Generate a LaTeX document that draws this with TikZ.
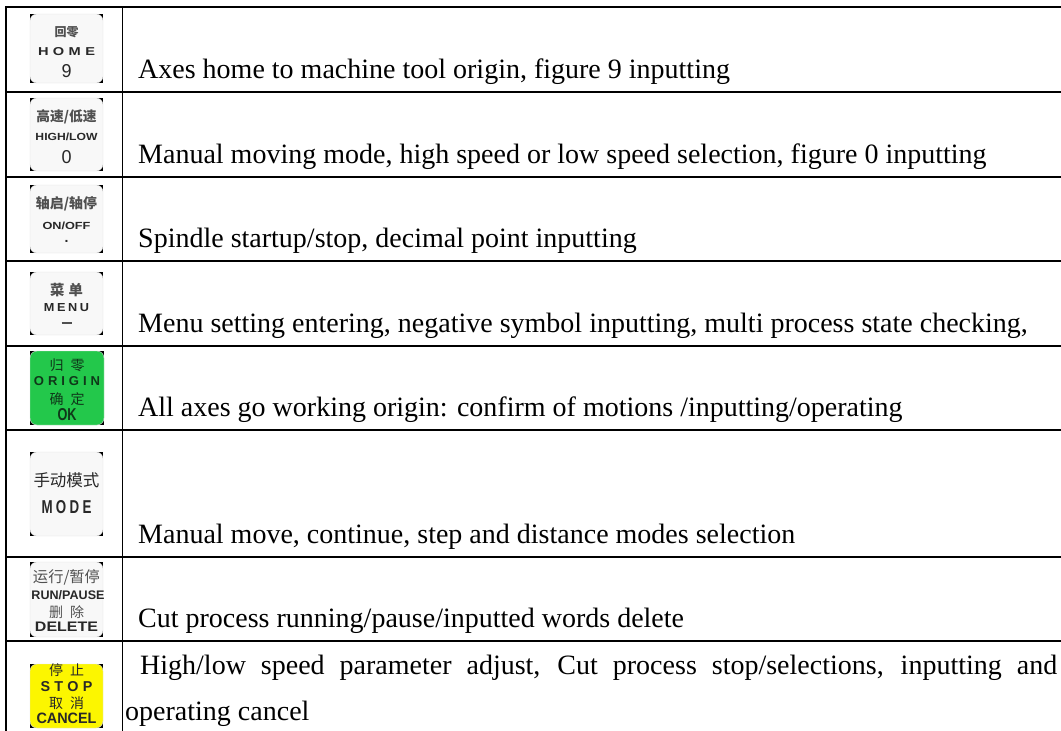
\documentclass[tikz,border=0pt]{standalone}
\usepackage{fontspec}
\usepackage{graphicx}
\setmainfont{Liberation Serif}
\newfontfamily\cjk{Noto Sans CJK SC}
\newfontfamily\keyfont{Liberation Sans}
\definecolor{keywhite}{RGB}{248,248,248}
\definecolor{keygreen}{RGB}{35,200,75}
\definecolor{keyyellow}{RGB}{252,246,0}
\definecolor{txgray}{RGB}{80,80,80}
\definecolor{txdark}{RGB}{40,40,40}
\definecolor{txgreen}{RGB}{15,55,25}
\newcommand\fw[2]{\resizebox{#1pt}{!}{#2}}
\newcommand\fwh[3]{\resizebox{#1pt}{#2pt}{#3}}
\tikzset{
  gridline/.style={line width=1.5pt, black},
  desc/.style={anchor=base west, inner sep=0pt, font=\fontsize{28}{34}\selectfont},
  kt/.style={inner sep=0pt, anchor=center},
  keyface/.style={rounded corners=7pt, draw=black!12, line width=0.4pt},
}
\newcommand\keybox[6]{% name, x0, y0, x1, y1, colour
  \fill[black] (#2,#3) rectangle (#4,#5);
  \filldraw[keyface, fill=#6] (#2,#3) rectangle (#4,#5);
  \node[inner sep=0pt, minimum width=#4-#2, minimum height=#5-#3] (#1) at ({(#2+#4)/2},{(#3+#5)/2}) {};
}
\begin{document}
\begin{tikzpicture}[x=1pt, y=-1pt]
\useasboundingbox (0,0) rectangle (1061,731);
\fill[white] (0,0) rectangle (1061,731);
% table lines
\foreach \yy in {7,92,177,261,346,430,557,641}
  \draw[gridline] (5.25,\yy) -- (1061,\yy);
\draw[gridline] (6,6.25) -- (6,731);
\draw[gridline] (122.5,6.25) -- (122.5,731);

% keys
\keybox{k1}{30}{14}{103}{83}{keywhite}
\keybox{k2}{30}{98}{103}{171}{keywhite}
\keybox{k3}{30}{185}{103}{253}{keywhite}
\keybox{k4}{30}{272}{103}{335}{keywhite}
\keybox{k5}{30}{351}{104}{425}{keygreen}
\keybox{k6}{30}{452}{103}{536}{keywhite}
\keybox{k7}{30}{562}{103}{637}{keywhite}
\keybox{k8}{30}{664}{103}{728}{keyyellow}

% key labels
\node[kt, text=txgray] (k1a) at (66.5,32) {\fw{24}{\cjk\bfseries 回零}};
\node[kt, text=txdark] (k1b) at (66.5,52) {\fwh{57}{8}{\keyfont\bfseries H\hspace{0.3em}O\hspace{0.3em}M\hspace{0.3em}E}};
\node[kt, text=txdark] (k1c) at (66.5,71) {\fwh{10}{13}{\keyfont 9}};

\node[kt, text=txgray] (k2a) at (66.5,117) {\fw{60}{\cjk\bfseries 高速/低速}};
\node[kt, text=txdark] (k2b) at (66.5,137) {\fwh{62}{7.5}{\keyfont\bfseries HIGH/LOW}};
\node[kt, text=txdark] (k2c) at (66.5,157) {\fwh{10}{13}{\keyfont 0}};

\node[kt, text=txgray] (k3a) at (66.5,204) {\fw{61}{\cjk\bfseries 轴启/轴停}};
\node[kt, text=txdark] (k3b) at (66.5,226) {\fwh{48}{7.5}{\keyfont\bfseries ON/OFF}};
\node[kt, text=txdark, font=\keyfont\bfseries\fontsize{14}{14}\selectfont] (k3c) at (66.5,241) {.};

\node[kt, text=txgray] (k4a) at (66.5,290) {\fw{33}{\cjk\bfseries 菜\hspace{0.3em}单}};
\node[kt, text=txdark] (k4b) at (66.5,308) {\fwh{45}{8}{\keyfont\bfseries M\hspace{0.2em}E\hspace{0.2em}N\hspace{0.2em}U}};
\node[kt, text=txgray] (k4c) at (66.5,323) {\fwh{10}{1.3}{\rule{10pt}{1pt}}};

\node[kt, text=txgreen] (k5a) at (67,365) {\fw{35}{\cjk 归\hspace{0.5em}零}};
\node[kt, text=txgreen] (k5b) at (67,381) {\fwh{66}{9}{\keyfont\bfseries O\hspace{0.3em}R\hspace{0.3em}I\hspace{0.3em}G\hspace{0.3em}I\hspace{0.3em}N}};
\node[kt, text=txgreen] (k5c) at (67,399) {\fw{35}{\cjk 确\hspace{0.5em}定}};
\node[kt, text=txgreen] (k5d) at (67,415) {\fwh{19}{12}{\keyfont\bfseries OK}};

\node[kt, text=txdark] (k6a) at (66.5,480) {\fw{66}{\cjk 手动模式}};
\node[kt, text=txdark] (k6b) at (66.5,507) {\fwh{50}{13}{\keyfont\bfseries M\hspace{0.25em}O\hspace{0.25em}D\hspace{0.25em}E}};

\node[kt, text=txgray] (k7a) at (66.5,577) {\fw{67}{\cjk 运行/暂停}};
\node[kt, text=txdark] (k7b) at (68,595) {\fwh{73}{9}{\keyfont\bfseries RUN/PAUSE}};
\node[kt, text=txgray] (k7c) at (66.5,612) {\fw{35}{\cjk 删\hspace{0.5em}除}};
\node[kt, text=txdark] (k7d) at (66.5,627) {\fwh{63}{9.5}{\keyfont\bfseries DELETE}};

\node[kt, text=txdark] (k8a) at (66.5,670) {\fw{35}{\cjk 停\hspace{0.5em}止}};
\node[kt, text=txdark] (k8b) at (66.5,687) {\fwh{52}{10}{\keyfont\bfseries S\hspace{0.3em}T\hspace{0.3em}O\hspace{0.3em}P}};
\node[kt, text=txdark] (k8c) at (66.5,703) {\fw{35}{\cjk 取\hspace{0.5em}消}};
\node[kt, text=txdark] (k8d) at (66.5,718) {\fwh{60}{10.5}{\keyfont\bfseries CANCEL}};

% descriptions
\node[desc] (d1) at (138,78) {Axes home to machine tool origin, figure 9 inputting};
\node[desc] (d2) at (138,163) {Manual moving mode, high speed or low speed selection, figure 0 inputting};
\node[desc] (d3) at (138,247) {Spindle startup/stop, decimal point inputting};
\node[desc] (d4) at (138,332) {Menu setting entering, negative symbol inputting, multi process state checking,};
\node[desc] (d5) at (138,416) {All axes go working origin: confirm of motions /inputting/operating};
\node[desc] (d6) at (138,543) {Manual move, continue, step and distance modes selection};
\node[desc] (d7) at (138,627) {Cut process running/pause/inputted words delete};
\node[desc] (d8a) at (140,674) {\makebox[917pt][s]{High/low speed parameter adjust, Cut process stop/selections, inputting and}};
\node[desc] (d8b) at (125,720) {operating cancel};
\end{tikzpicture}
\end{document}
